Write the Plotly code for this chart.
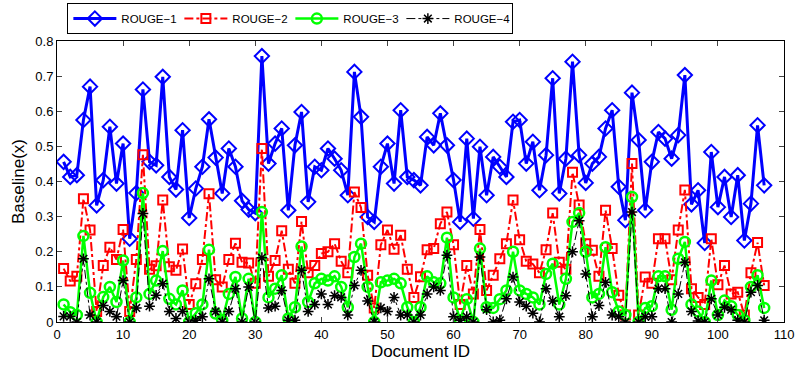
import plotly.graph_objects as go

doc_ids = list(range(1, 108))

rouge1 = [0.456, 0.413, 0.418, 0.575, 0.670, 0.332, 0.404, 0.556, 0.394, 0.508,
          0.237, 0.367, 0.662, 0.456, 0.446, 0.698, 0.413, 0.377, 0.546, 0.296,
          0.380, 0.442, 0.577, 0.468, 0.366, 0.494, 0.442, 0.345, 0.320, 0.310,
          0.757, 0.451, 0.508, 0.551, 0.318, 0.503, 0.598, 0.342, 0.442, 0.432,
          0.494, 0.465, 0.432, 0.361, 0.712, 0.584, 0.299, 0.285, 0.442, 0.508,
          0.394, 0.603, 0.413, 0.404, 0.389, 0.527, 0.503, 0.594, 0.503, 0.404,
          0.285, 0.522, 0.294, 0.499, 0.361, 0.470, 0.442, 0.413, 0.570, 0.575,
          0.451, 0.513, 0.375, 0.475, 0.694, 0.366, 0.465, 0.741, 0.475, 0.396,
          0.451, 0.470, 0.551, 0.603, 0.385, 0.290, 0.653, 0.518, 0.318, 0.456,
          0.541, 0.522, 0.465, 0.532, 0.703, 0.335, 0.375, 0.225, 0.484, 0.327,
          0.413, 0.299, 0.418, 0.232, 0.337, 0.560, 0.389]

rouge2 = [0.152, 0.117, 0.130, 0.351, 0.262, 0.030, 0.161, 0.213, 0.178, 0.263,
          0.030, 0.178, 0.476, 0.150, 0.160, 0.347, 0.157, 0.147, 0.208, 0.050,
          0.109, 0.178, 0.365, 0.120, 0.100, 0.178, 0.224, 0.170, 0.168, 0.110,
          0.494, 0.130, 0.175, 0.260, 0.150, 0.110, 0.286, 0.140, 0.161, 0.195,
          0.200, 0.223, 0.173, 0.140, 0.370, 0.326, 0.133, 0.040, 0.220, 0.262,
          0.207, 0.247, 0.150, 0.070, 0.129, 0.206, 0.209, 0.280, 0.313, 0.220,
          0.050, 0.161, 0.080, 0.263, 0.090, 0.133, 0.180, 0.223, 0.347, 0.234,
          0.173, 0.165, 0.140, 0.206, 0.310, 0.170, 0.150, 0.426, 0.333, 0.223,
          0.204, 0.130, 0.318, 0.209, 0.076, 0.020, 0.451, 0.020, 0.128, 0.110,
          0.237, 0.237, 0.120, 0.262, 0.376, 0.095, 0.070, 0.050, 0.237, 0.106,
          0.161, 0.080, 0.085, 0.020, 0.140, 0.226, 0.104]

rouge3 = [0.050, 0.028, 0.020, 0.245, 0.083, 0.000, 0.071, 0.100, 0.057, 0.175,
          0.000, 0.070, 0.367, 0.080, 0.118, 0.202, 0.066, 0.050, 0.090, 0.000,
          0.025, 0.050, 0.206, 0.024, 0.005, 0.080, 0.128, 0.010, 0.123, 0.000,
          0.313, 0.070, 0.095, 0.133, 0.010, 0.042, 0.215, 0.057, 0.110, 0.123,
          0.118, 0.130, 0.100, 0.042, 0.185, 0.223, 0.100, 0.000, 0.113, 0.118,
          0.123, 0.110, 0.042, 0.000, 0.042, 0.130, 0.113, 0.110, 0.240, 0.070,
          0.005, 0.065, 0.000, 0.209, 0.042, 0.040, 0.065, 0.090, 0.200, 0.090,
          0.080, 0.070, 0.050, 0.137, 0.166, 0.050, 0.123, 0.285, 0.310, 0.200,
          0.070, 0.080, 0.213, 0.085, 0.030, 0.020, 0.356, 0.000, 0.040, 0.045,
          0.130, 0.130, 0.035, 0.180, 0.228, 0.050, 0.030, 0.000, 0.118, 0.020,
          0.061, 0.045, 0.020, 0.005, 0.100, 0.133, 0.040]

rouge4 = [0.016, 0.016, 0.000, 0.180, 0.020, 0.000, 0.047, 0.030, 0.015, 0.118,
          0.000, 0.040, 0.309, 0.045, 0.076, 0.109, 0.030, 0.010, 0.030, 0.000,
          0.005, 0.015, 0.123, 0.030, 0.000, 0.030, 0.095, 0.000, 0.100, 0.000,
          0.183, 0.040, 0.045, 0.090, 0.005, 0.005, 0.147, 0.030, 0.050, 0.080,
          0.050, 0.075, 0.070, 0.020, 0.104, 0.147, 0.060, 0.000, 0.040, 0.030,
          0.070, 0.020, 0.020, 0.000, 0.020, 0.080, 0.100, 0.090, 0.190, 0.015,
          0.005, 0.015, 0.000, 0.185, 0.035, 0.000, 0.005, 0.066, 0.128, 0.057,
          0.045, 0.025, 0.000, 0.095, 0.060, 0.015, 0.075, 0.200, 0.288, 0.137,
          0.015, 0.047, 0.113, 0.020, 0.015, 0.000, 0.313, 0.000, 0.015, 0.015,
          0.095, 0.095, 0.000, 0.080, 0.170, 0.030, 0.003, 0.000, 0.066, 0.020,
          0.042, 0.035, 0.005, 0.000, 0.085, 0.104, 0.005]

x_ticks = list(range(0, 111, 10))
y_ticks = [0, 0.1, 0.2, 0.3, 0.4, 0.5, 0.6, 0.7, 0.8]
y_tick_text = ["0", "0.1", "0.2", "0.3", "0.4", "0.5", "0.6", "0.7", "0.8"]

fig = go.Figure()
fig.add_trace(go.Scatter(
    x=doc_ids, y=rouge1, name="ROUGE\u22121", mode="lines+markers",
    line=dict(color="#0000ff", width=3),
    marker=dict(symbol="diamond-open", size=11, color="#0000ff", line=dict(width=2, color="#0000ff")),
))
fig.add_trace(go.Scatter(
    x=doc_ids, y=rouge2, name="ROUGE\u22122", mode="lines+markers",
    line=dict(color="#ff0000", width=2, dash="dashdot"),
    marker=dict(symbol="square-open", size=9, color="#ff0000", line=dict(width=2, color="#ff0000")),
))
fig.add_trace(go.Scatter(
    x=doc_ids, y=rouge3, name="ROUGE\u22123", mode="lines+markers",
    line=dict(color="#00ff00", width=2.5),
    marker=dict(symbol="circle-open", size=10, color="#00ff00", line=dict(width=2.5, color="#00ff00")),
))
fig.add_trace(go.Scatter(
    x=doc_ids, y=rouge4, name="ROUGE\u22124", mode="lines+markers",
    line=dict(color="#000000", width=1, dash="dashdot"),
    marker=dict(symbol="asterisk-open", size=9, color="#000000", line=dict(width=1.5, color="#000000")),
))

fig.update_layout(
    width=798, height=365,
    margin=dict(l=57, r=14, t=41, b=43, autoexpand=False),
    paper_bgcolor="white", plot_bgcolor="white",
    font=dict(family="Liberation Sans, Arial, sans-serif", size=13, color="#000000"),
    showlegend=True,
    legend=dict(
        orientation="h", x=0.321, xanchor="center", y=1.135, yanchor="top",
        bordercolor="#000000", borderwidth=1, bgcolor="white",
        font=dict(size=11.5), itemwidth=43, tracegroupgap=0,
        entrywidth=53, entrywidthmode="pixels",
    ),
    xaxis=dict(
        range=[0, 110], tickvals=x_ticks, ticks="inside", ticklen=5,
        showline=True, linecolor="#000000", linewidth=1, mirror="ticks",
        showgrid=False, zeroline=False, tickfont=dict(size=13),
        title=dict(text="Document ID", font=dict(size=17), standoff=4),
    ),
    yaxis=dict(
        range=[0, 0.8], tickvals=y_ticks, ticktext=y_tick_text, ticks="inside", ticklen=5,
        showline=True, linecolor="#000000", linewidth=1, mirror="ticks",
        showgrid=False, zeroline=False, tickfont=dict(size=13),
        title=dict(text="Baseline(x)", font=dict(size=17), standoff=6),
    ),
)

fig.write_html("out.html")
